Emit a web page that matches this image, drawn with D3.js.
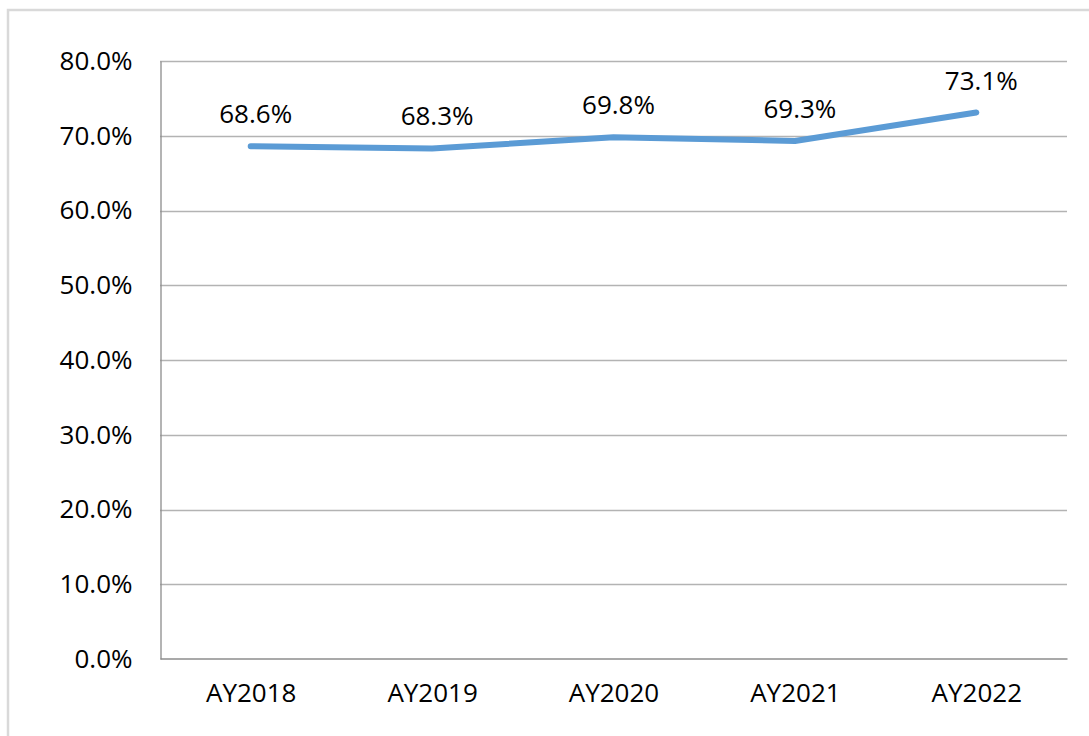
<!DOCTYPE html>
<html>
<head>
<meta charset="utf-8">
<script src="https://cdn.jsdelivr.net/npm/d3@7"></script>
<style>
  body { margin: 0; background: #fff; }
  svg text { font-family: "Open Sans", "Liberation Sans", sans-serif; fill: #000; }
</style>
</head>
<body>
<svg id="chart" width="1089" height="736"></svg>
<script>
// data
var years = ["AY2018", "AY2019", "AY2020", "AY2021", "AY2022"];
var rates = [68.6, 68.3, 69.8, 69.3, 73.1];
var yTicks = [0, 10, 20, 30, 40, 50, 60, 70, 80];

// layout
var width = 1089, height = 736;
var plot = { left: 160, right: 1067, top: 61, bottom: 659 };
var fontSize = 26;

var svg = d3.select("#chart");

// outer chart border
svg.append("rect")
  .attr("x", 8).attr("y", 10)
  .attr("width", width + 10).attr("height", height + 10)
  .attr("fill", "none")
  .attr("stroke", "#d9d9d9")
  .attr("stroke-width", 2.5);

var x = d3.scalePoint().domain(years)
  .range([plot.left, plot.right]).padding(0.5);
var y = d3.scaleLinear().domain([0, 80])
  .range([plot.bottom, plot.top]);

// gridlines
svg.append("g").selectAll("line").data(yTicks.filter(function(d){ return d > 0; }))
  .enter().append("line")
  .attr("x1", plot.left).attr("x2", plot.right)
  .attr("y1", function(d){ return Math.round(y(d)) + 0.5; })
  .attr("y2", function(d){ return Math.round(y(d)) + 0.5; })
  .attr("stroke", "#b3b3b3").attr("stroke-width", 1.3);

// y axis
var yAxis = d3.axisLeft(y).tickValues(yTicks)
  .tickFormat(function(d){ return d.toFixed(1) + "%"; })
  .tickSize(0).tickPadding(28);
var gy = svg.append("g").attr("transform", "translate(" + (plot.left + 0.5) + ",0)").call(yAxis);
gy.select(".domain").attr("stroke", "#8c8c8c").attr("stroke-width", 1.3);
gy.selectAll("text").attr("font-size", fontSize).attr("fill", "#000");

// x axis
var xAxis = d3.axisBottom(x).tickSize(0).tickPadding(25);
var gx = svg.append("g").attr("transform", "translate(0," + (plot.bottom - 0.5) + ")").call(xAxis);
gx.select(".domain").attr("stroke", "#8c8c8c").attr("stroke-width", 1.3);
gx.selectAll("text").attr("font-size", fontSize).attr("fill", "#000");

// series line
var line = d3.line()
  .x(function(d, i){ return x(years[i]); })
  .y(function(d){ return y(d); });

svg.append("path").datum(rates)
  .attr("d", line)
  .attr("fill", "none")
  .attr("stroke", "#5b9bd5")
  .attr("stroke-width", 6)
  .attr("stroke-linecap", "round")
  .attr("stroke-linejoin", "round");

// data labels
svg.append("g").selectAll("text").data(rates).enter().append("text")
  .attr("x", function(d, i){ return x(years[i]) + 5; })
  .attr("y", function(d){ return y(d) - 23; })
  .attr("text-anchor", "middle")
  .attr("font-size", fontSize)
  .text(function(d){ return d.toFixed(1) + "%"; });
</script>
</body>
</html>
